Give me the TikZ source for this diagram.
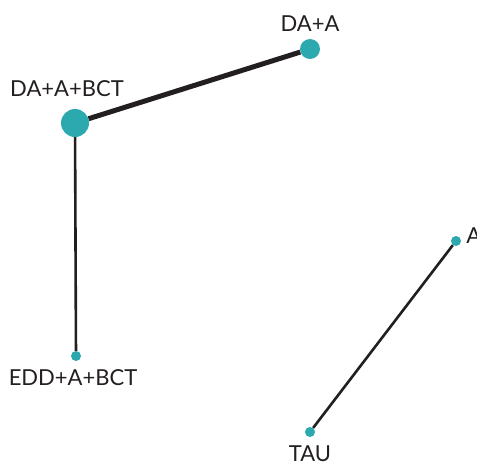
\documentclass[tikz,border=0pt]{standalone}
\usepackage{fontspec}
\setmainfont{Lato}
\usetikzlibrary{positioning}
\definecolor{teal}{HTML}{2CA9AF}
\definecolor{ink}{HTML}{231F20}
\tikzset{
	trt/.style = {circle, fill = teal, inner sep = 0pt},
	lbl/.style = {inner sep = 0pt, text = ink, font = \fontsize{22}{26}\selectfont},
	link/.style = {draw = ink, line width = 2.6pt},
}
\begin{document}
\begin{tikzpicture}[x = 1pt, y = -1pt]
		\useasboundingbox (0, 0) rectangle (477, 461);
		% treatments
		\foreach \name/\x/\y/\d in {daa/310/49/20, dab/75/123/28, edd/76/356/10, aa/456/241/10, tau/310/432/10}{
			\node[trt, minimum size = \d pt] (\name) at (\x, \y) {};}
		% comparisons
		\draw[link, line width = 5pt] (dab) -- (daa);
		\draw[link] (dab) -- (edd);
		\draw[link] (aa) -- (tau);
		% labels
		\node[lbl, above = 7pt of daa] (daaL) {DA+A};
		\node[lbl, above = 12pt of dab, xshift = -8pt] (dabL) {DA+A+BCT};
		\node[lbl, below = 8pt of edd, xshift = -3pt] (eddL) {EDD+A+BCT};
		\node[lbl, right = 5pt of aa, yshift = 5pt] (aaL) {A};
		\node[lbl, below = 8pt of tau] (tauL) {TAU};
\end{tikzpicture}
\end{document}
